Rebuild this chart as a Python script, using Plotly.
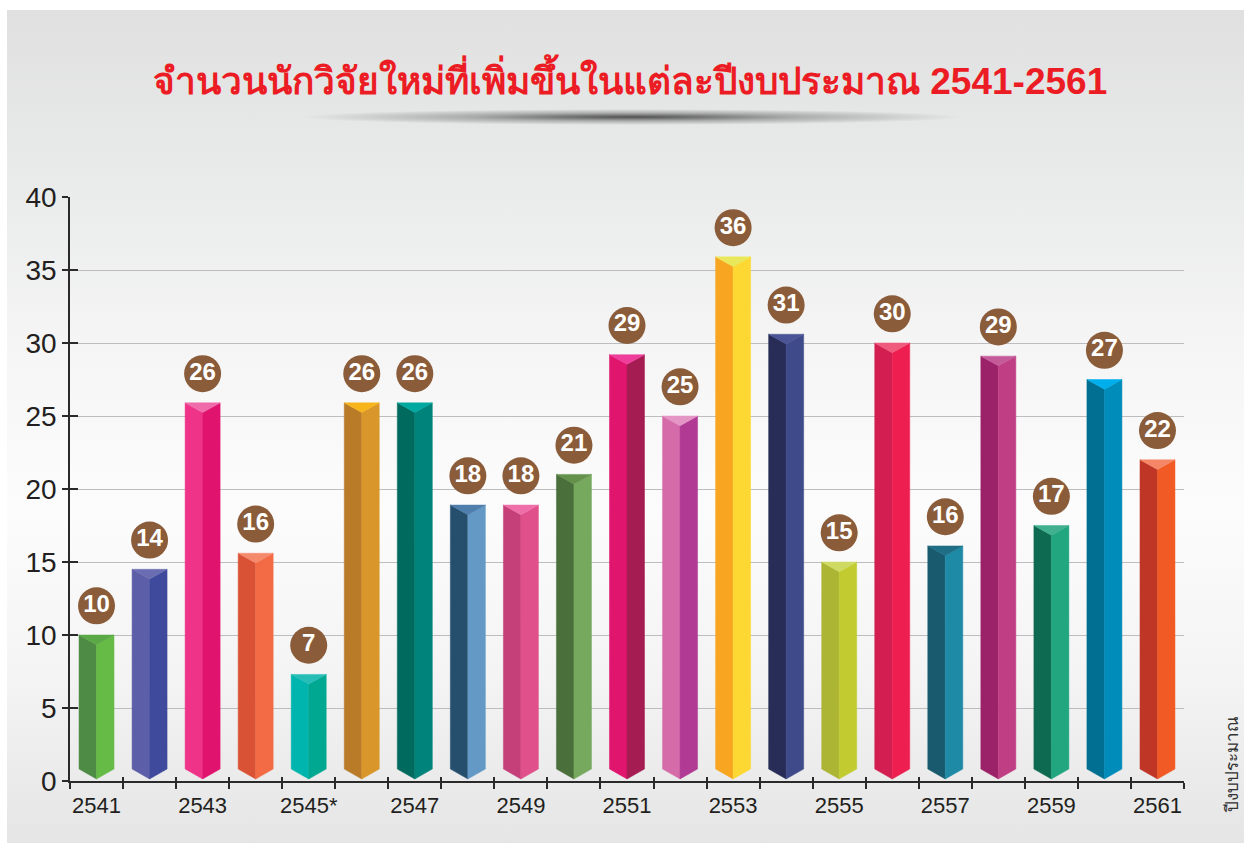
import base64
import plotly.graph_objects as go

# ---------------- data ----------------
years = ["2541", "2542", "2543", "2544", "2545*", "2546", "2547", "2548", "2549", "2550",
         "2551", "2552", "2553", "2554", "2555", "2556", "2557", "2558", "2559", "2560", "2561"]
heights = [10.0, 14.5, 25.9, 15.6, 7.3, 25.9, 25.9, 18.9, 18.9, 21.0,
           29.2, 25.0, 35.9, 30.6, 15.0, 30.0, 16.1, 29.1, 17.5, 27.5, 22.0]
labels = ["10", "14", "26", "16", "7", "26", "26", "18", "18", "21",
          "29", "25", "36", "31", "15", "30", "16", "29", "17", "27", "22"]
y_ticks = [0, 5, 10, 15, 20, 25, 30, 35, 40]
title_text = "จำนวนนักวิจัยใหม่ที่เพิ่มขึ้นในแต่ละปีงบประมาณ 2541-2561"
axis_note = "ปีงบประมาณ"

# ---------------- styles ----------------
left_colors = ["#4E8C45", "#5C5EA8", "#EE3389", "#DA5235", "#00B5AD", "#B97B27", "#006A5F",
               "#264F6E", "#C54079", "#4B6F3A", "#E0156E", "#D56CA9", "#F8A622", "#272D57",
               "#ADB535", "#D31E51", "#195A6E", "#9B2169", "#0E6B51", "#006F91", "#C03626"]
right_colors = ["#66BB46", "#3F4A9C", "#E0136F", "#F26B45", "#00A891", "#D9962A", "#00837A",
                "#6499C6", "#E0508A", "#76A95D", "#A51C52", "#B03A94", "#FDD832", "#3E4A8A",
                "#C2CB30", "#EE1F50", "#1E8AA6", "#C03E84", "#21A67F", "#008CBA", "#F15A24"]
cap_colors = ["#5BA846", "#6B6DB3", "#F06BAA", "#F4896C", "#27BDB7", "#F7B51B", "#00A9A0",
              "#4F7EAC", "#EF6FAA", "#63904B", "#EE3D9A", "#E495C6", "#E8E85A", "#4B5496",
              "#CFDA63", "#EF5A7D", "#1E6F86", "#C45A98", "#40B08F", "#00AEEB", "#F58766"]

HALF = 0.33      # half bar width (category units)
TOPV = 0.66      # depth of top V (value units)
BOT_SIDE = 0.82
BOT_PT = 0.14
LABEL_OFF = 2.0
AXIS_C = "#2a2a2a"

W, H = 1244, 843
ML, MR, MT, MB = 70, 60, 197, 62
PW, PH = W - ML - MR, H - MT - MB

fig = go.Figure()

n = len(years)
for i in range(n):
    v = heights[i]
    xl, xc, xr = i - HALF, i, i + HALF
    fig.add_trace(go.Scatter(
        x=[xl, xc, xc, xl, xl], y=[v, v - TOPV, BOT_PT, BOT_SIDE, v],
        fill="toself", fillcolor=left_colors[i], mode="lines",
        line=dict(width=0.5, color=left_colors[i]), hoverinfo="skip", showlegend=False))
    fig.add_trace(go.Scatter(
        x=[xc, xr, xr, xc, xc], y=[v - TOPV, v, BOT_SIDE, BOT_PT, v - TOPV],
        fill="toself", fillcolor=right_colors[i], mode="lines",
        line=dict(width=0.5, color=right_colors[i]), hoverinfo="skip", showlegend=False))
    fig.add_trace(go.Scatter(
        x=[xl, xr, xc, xl], y=[v, v, v - TOPV, v],
        fill="toself", fillcolor=cap_colors[i], mode="lines",
        line=dict(width=0.5, color=cap_colors[i]), hoverinfo="skip", showlegend=False))

fig.add_trace(go.Scatter(
    x=list(range(n)), y=[h + LABEL_OFF for h in heights],
    mode="markers+text", text=labels, textposition="middle center",
    marker=dict(size=37, color="#8A5C3A", line=dict(width=0)),
    textfont=dict(family="Liberation Sans, Arial, sans-serif", size=24, color="white", weight="bold"),
    cliponaxis=False, hoverinfo="skip", showlegend=False))

# dummy trace for overlay axes (inner halves of the crossing ticks)
fig.add_trace(go.Scatter(x=[None], y=[None], xaxis="x2", yaxis="y2",
                         showlegend=False, hoverinfo="skip"))

boundaries = [i - 0.5 for i in range(n + 1)]

svg = f'''<svg xmlns="http://www.w3.org/2000/svg" width="{W}" height="{H}" viewBox="0 0 {W} {H}">
<defs>
<linearGradient id="bg" x1="0" y1="0" x2="0" y2="1">
<stop offset="0" stop-color="#dfe0df"/>
<stop offset="0.2" stop-color="#e9eaea"/>
<stop offset="0.4" stop-color="#f5f5f5"/>
<stop offset="0.6" stop-color="#fcfcfc"/>
<stop offset="0.8" stop-color="#f4f4f4"/>
<stop offset="1" stop-color="#e4e5e4"/>
</linearGradient>
<radialGradient id="sh" cx="0.5" cy="0.5" r="0.5">
<stop offset="0" stop-color="#000" stop-opacity="0.65"/>
<stop offset="0.5" stop-color="#000" stop-opacity="0.25"/>
<stop offset="1" stop-color="#000" stop-opacity="0"/>
</radialGradient>
</defs>
<rect width="{W}" height="{H}" fill="#ffffff"/>
<rect x="7" y="10" width="{W-7}" height="{H-10}" fill="url(#bg)"/>
<ellipse cx="632" cy="117" rx="330" ry="8" fill="url(#sh)"/>
</svg>'''
src = "data:image/svg+xml;base64," + base64.b64encode(svg.encode("utf-8")).decode("ascii")

fig.update_layout(
    width=W, height=H,
    margin=dict(l=ML, r=MR, t=MT, b=MB, pad=0),
    paper_bgcolor="white", plot_bgcolor="rgba(0,0,0,0)",
    showlegend=False,
    images=[dict(source=src, xref="paper", yref="paper",
                 x=-ML / PW, y=1 + MT / PH, sizex=W / PW, sizey=H / PH,
                 xanchor="left", yanchor="top", sizing="stretch", layer="below")],
    xaxis=dict(range=[-0.5, n - 0.5], showgrid=False, zeroline=False,
               showline=True, linecolor=AXIS_C, linewidth=1.5,
               tickmode="array", tickvals=list(range(0, n, 2)), ticktext=years[::2],
               ticks="", ticklabelstandoff=4,
               tickfont=dict(family="Liberation Sans, Arial, sans-serif", size=22, color="#231f20"),
               minor=dict(tickmode="array", tickvals=boundaries, ticks="outside", ticklen=6,
                          tickcolor=AXIS_C, tickwidth=1.5, showgrid=False)),
    xaxis2=dict(overlaying="x", anchor="y", side="bottom", range=[-0.5, n - 0.5],
                showgrid=False, zeroline=False, showline=False,
                tickmode="array", tickvals=boundaries, ticks="inside", ticklen=4,
                tickcolor=AXIS_C, tickwidth=1.5, showticklabels=False),
    yaxis=dict(range=[0, 40], showgrid=True, gridcolor="#bdbdc0", gridwidth=1.3,
               zeroline=False, showline=True, linecolor=AXIS_C, linewidth=1.5,
               tickmode="array", tickvals=y_ticks, ticks="outside", ticklen=6,
               tickcolor=AXIS_C, tickwidth=1.5, ticklabelstandoff=0,
               tickfont=dict(family="Liberation Sans, Arial, sans-serif", size=28, color="#231f20")),
    yaxis2=dict(overlaying="y", anchor="x", side="left", range=[0, 40],
                showgrid=False, zeroline=False, showline=False,
                tickmode="array", tickvals=y_ticks, ticks="inside", ticklen=8,
                tickcolor=AXIS_C, tickwidth=1.5, showticklabels=False),
    annotations=[
        dict(text=title_text, xref="paper", yref="paper",
             x=(630 - ML) / PW, y=(H - MB - 78) / PH, xanchor="center", yanchor="middle",
             showarrow=False,
             font=dict(family="Liberation Sans, Arial, sans-serif", size=37, color="#EC1C24", weight="bold")),
        dict(text=axis_note, xref="paper", yref="paper",
             x=(1232 - ML) / PW, y=(H - MB - 765) / PH, xanchor="center", yanchor="middle",
             textangle=-90, showarrow=False,
             font=dict(family="Liberation Sans, Arial, sans-serif", size=17, color="#333333")),
    ],
)

fig.write_html("out.html", config={"displayModeBar": False},
               post_script="document.body.style.margin='0';")
